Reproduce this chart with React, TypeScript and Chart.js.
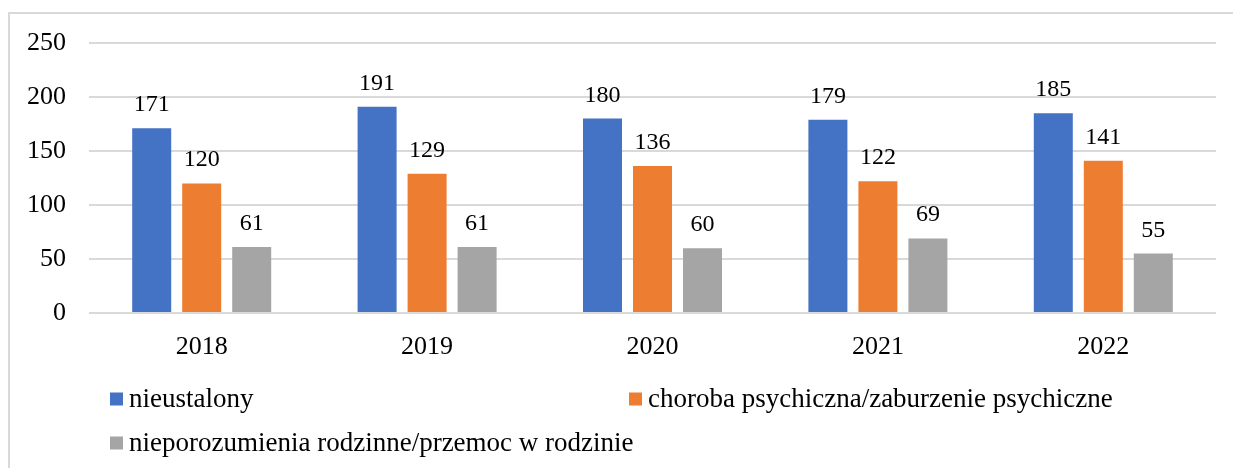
import React, { useEffect, useRef } from "react";
import { Chart, registerables } from "chart.js";

Chart.register(...registerables);

const years = ["2018", "2019", "2020", "2021", "2022"];
const seriesNames = [
  "nieustalony",
  "choroba psychiczna/zaburzenie psychiczne",
  "nieporozumienia rodzinne/przemoc w rodzinie",
];
const nieustalony = [171, 191, 180, 179, 185];
const choroba = [120, 129, 136, 122, 141];
const nieporozumienia = [61, 61, 60, 69, 55];
const colors = ["#4472C4", "#ED7D31", "#A5A5A5"];
const yTicks = [0, 50, 100, 150, 200, 250];

const FONT = '"Liberation Serif", "Times New Roman", serif';

const dataLabelPlugin = {
  id: "dataLabels",
  afterDatasetsDraw(chart: any) {
    const ctx = chart.ctx;
    ctx.save();
    ctx.font = `24px ${FONT}`;
    ctx.fillStyle = "#000";
    ctx.textAlign = "center";
    ctx.textBaseline = "alphabetic";
    chart.data.datasets.forEach((ds: any, i: number) => {
      const meta = chart.getDatasetMeta(i);
      meta.data.forEach((el: any, j: number) => {
        ctx.fillText(String(ds.data[j]), el.x, el.y - 17);
      });
    });
    ctx.restore();
  },
};

const legendPlugin = {
  id: "customLegend",
  afterDraw(chart: any) {
    const ctx = chart.ctx;
    ctx.save();
    ctx.font = `27px ${FONT}`;
    ctx.fillStyle = "#000";
    ctx.textBaseline = "middle";
    ctx.textAlign = "left";
    const cols = [110, 629];
    const rows = [399, 443];
    chart.data.datasets.forEach((ds: any, i: number) => {
      const x = cols[i % 2];
      const y = rows[Math.floor(i / 2)];
      ctx.fillStyle = ds.backgroundColor;
      ctx.fillRect(x, y - 6.5, 13, 13);
      ctx.fillStyle = "#000";
      ctx.fillText(ds.label, x + 19, y + 1);
    });
    ctx.restore();
  },
};

export default function App() {
  const ref = useRef<HTMLCanvasElement>(null);
  useEffect(() => {
    if (!ref.current) return;
    const chart = new Chart(ref.current, {
      type: "bar",
      data: {
        labels: years,
        datasets: [nieustalony, choroba, nieporozumienia].map((d, i) => ({
          label: seriesNames[i],
          data: d,
          backgroundColor: colors[i],
          categoryPercentage: 0.6655,
          barPercentage: 0.78,
        })),
      },
      options: {
        animation: false,
        responsive: false,
        maintainAspectRatio: false,
        layout: { padding: { top: 43, right: 17, left: 0, bottom: 0 } },
        plugins: {
          legend: { display: false },
          tooltip: { enabled: false },
        },
        scales: {
          x: {
            grid: { display: false },
            border: { display: false },
            ticks: {
              font: { family: FONT, size: 26 },
              color: "#000",
              padding: 11,
            },
            afterFit: (s: any) => {
              s.height = 155;
            },
          },
          y: {
            min: 0,
            max: 250,
            afterBuildTicks: (s: any) => {
              s.ticks = yTicks.map((v) => ({ value: v }));
            },
            grid: { color: "#D9D9D9", lineWidth: 2, drawTicks: false },
            border: { display: false },
            ticks: {
              font: { family: FONT, size: 26 },
              color: "#000",
              padding: 23,
            },
            afterFit: (s: any) => {
              s.width = 89;
            },
          },
        },
      },
      plugins: [dataLabelPlugin, legendPlugin],
    });
    return () => chart.destroy();
  }, []);

  return (
    <div
      style={{
        position: "absolute",
        left: 0,
        top: 0,
        width: 1233,
        height: 468,
        overflow: "hidden",
        background: "#fff",
      }}
    >
      <div
        style={{
          position: "absolute",
          left: 8,
          top: 12,
          width: 1260,
          height: 520,
          border: "2px solid #D9D9D9",
          boxSizing: "border-box",
        }}
      />
      <canvas
        ref={ref}
        width={1233}
        height={468}
        style={{ position: "absolute", left: 0, top: 0, width: 1233, height: 468 }}
      />
    </div>
  );
}
